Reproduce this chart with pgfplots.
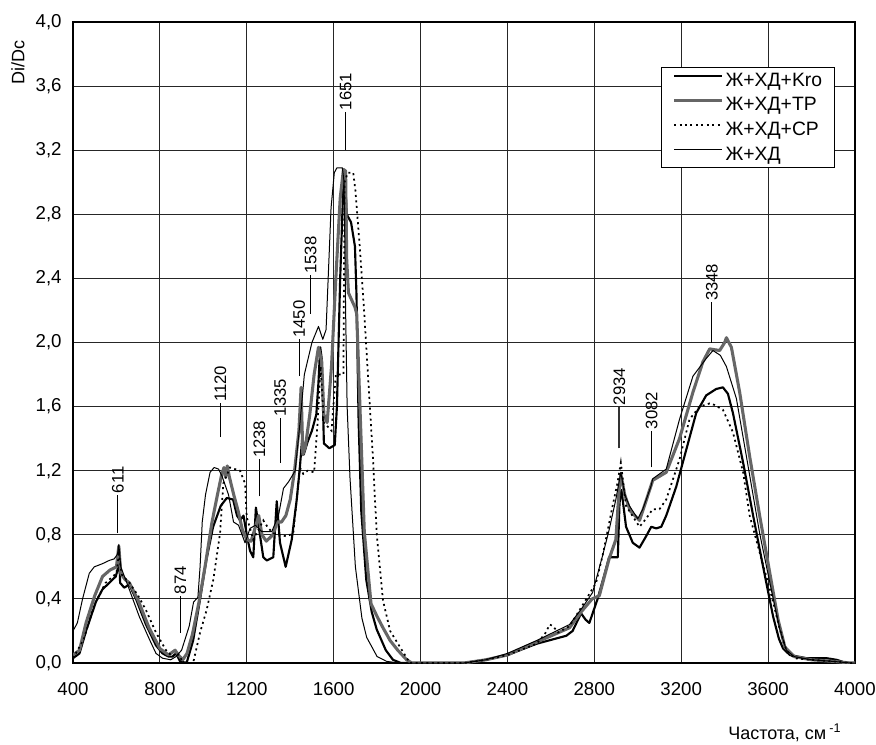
\documentclass[border=0pt]{standalone}
\usepackage{fontspec}
\setmainfont{Liberation Sans}
\usepackage{pgfplots}
\pgfplotsset{compat=1.18}

\pgfplotstableread{
x y
400 0.03
430 0.06
460 0.20
505 0.38
536 0.46
567 0.50
597 0.54
605 0.58
611 0.73
617 0.50
636 0.47
659 0.49
690 0.40
736 0.24
782 0.11
812 0.06
840 0.04
858 0.04
874 0.06
893 0.01
923 0.00
953 0.14
984 0.39
1015 0.65
1045 0.85
1080 0.98
1108 1.03
1137 1.02
1155 0.92
1169 0.89
1185 0.92
1200 0.80
1215 0.70
1230 0.66
1242 0.97
1255 0.85
1276 0.66
1292 0.64
1322 0.66
1338 1.01
1353 0.75
1379 0.60
1407 0.77
1430 1.02
1445 1.23
1455 1.40
1462 1.30
1480 1.38
1500 1.45
1520 1.55
1530 1.75
1538 1.97
1545 1.90
1555 1.37
1580 1.34
1605 1.36
1615 1.60
1630 2.40
1645 3.00
1651 3.07
1660 2.80
1680 2.75
1698 2.60
1705 2.30
1715 1.50
1727 0.95
1750 0.52
1775 0.32
1798 0.21
1840 0.08
1873 0.02
1910 0.00
2200 0.00
2300 0.02
2400 0.05
2534 0.12
2671 0.17
2700 0.20
2739 0.31
2760 0.27
2777 0.25
2815 0.40
2846 0.55
2868 0.66
2908 0.66
2916 1.00
2925 1.08
2946 0.85
2977 0.75
3008 0.72
3038 0.79
3062 0.85
3085 0.84
3108 0.85
3131 0.92
3177 1.10
3223 1.33
3269 1.56
3315 1.67
3361 1.71
3392 1.72
3415 1.68
3438 1.56
3485 1.25
3531 0.92
3577 0.60
3623 0.29
3650 0.15
3669 0.09
3700 0.05
3777 0.03
3869 0.03
3915 0.02
3960 0.00
4000 0.00
}\kro

\pgfplotstableread{
x y
400 0.05
430 0.08
460 0.25
500 0.42
536 0.54
570 0.58
600 0.60
611 0.73
620 0.56
640 0.52
660 0.50
700 0.39
750 0.22
800 0.09
840 0.05
870 0.08
885 0.05
905 0.02
925 0.06
950 0.18
980 0.38
1010 0.62
1040 0.88
1065 1.05
1085 1.18
1095 1.22
1102 1.16
1110 1.23
1120 1.16
1140 1.05
1160 0.95
1180 0.83
1200 0.77
1220 0.76
1240 0.85
1255 0.92
1270 0.80
1290 0.76
1320 0.80
1340 0.88
1360 0.88
1380 0.92
1400 1.02
1420 1.20
1440 1.45
1450 1.72
1458 1.30
1470 1.35
1490 1.55
1510 1.80
1530 1.97
1545 1.88
1555 1.55
1570 1.50
1590 1.85
1610 2.40
1630 2.90
1645 3.08
1655 3.07
1660 2.52
1668 2.31
1698 2.22
1706 2.18
1712 1.95
1741 0.82
1772 0.37
1800 0.29
1827 0.22
1860 0.14
1895 0.08
1936 0.02
1960 0.00
2200 0.00
2300 0.02
2400 0.05
2534 0.13
2686 0.22
2740 0.32
2790 0.40
2823 0.42
2868 0.65
2899 0.77
2914 1.08
2922 1.18
2940 1.05
2965 0.95
3008 0.89
3040 1.02
3069 1.14
3131 1.19
3192 1.40
3254 1.69
3300 1.88
3331 1.96
3377 1.95
3400 2.00
3408 2.03
3431 1.97
3469 1.69
3515 1.29
3561 0.92
3608 0.56
3646 0.27
3677 0.10
3720 0.04
3800 0.02
3900 0.01
3980 0.00
4000 0.00
}\tp

\pgfplotstableread{
x y
400 0.03
450 0.15
500 0.37
550 0.50
600 0.56
611 0.68
625 0.55
660 0.50
700 0.42
736 0.33
782 0.19
828 0.08
858 0.04
880 0.06
900 0.02
920 0.00
953 0.00
985 0.19
1015 0.33
1046 0.52
1077 0.81
1092 1.12
1123 1.22
1169 1.20
1192 1.12
1200 0.91
1230 0.77
1276 0.89
1300 0.84
1322 0.81
1350 0.80
1384 0.79
1414 0.81
1430 1.02
1445 1.22
1460 1.18
1480 1.20
1510 1.19
1526 1.50
1540 1.85
1555 1.50
1590 1.45
1610 1.80
1645 1.80
1650 3.00
1665 3.06
1690 3.06
1700 2.95
1720 2.60
1740 2.20
1760 1.75
1780 1.30
1798 0.81
1827 0.39
1860 0.20
1905 0.10
1951 0.00
2200 0.00
2300 0.02
2400 0.05
2534 0.12
2572 0.18
2595 0.24
2610 0.23
2633 0.19
2686 0.23
2732 0.33
2808 0.50
2838 0.67
2853 0.77
2884 0.98
2906 1.12
2922 1.25
2946 0.98
3008 0.85
3038 0.90
3069 0.96
3100 0.96
3131 1.02
3192 1.27
3238 1.52
3285 1.60
3331 1.62
3354 1.61
3392 1.58
3438 1.44
3485 1.19
3515 0.92
3561 0.69
3608 0.46
3654 0.21
3684 0.08
3720 0.03
3800 0.02
3900 0.01
3980 0.00
4000 0.00
}\cp

\pgfplotstableread{
x y
400 0.20
420 0.25
444 0.40
475 0.56
498 0.60
536 0.62
567 0.64
590 0.65
605 0.68
611 0.74
620 0.60
659 0.46
705 0.29
751 0.15
782 0.06
812 0.03
850 0.02
874 0.04
900 0.08
935 0.23
955 0.38
975 0.41
985 0.60
995 0.88
1010 1.05
1031 1.19
1050 1.22
1070 1.21
1085 1.17
1116 1.05
1139 0.88
1162 0.86
1192 0.75
1215 0.84
1240 0.86
1269 0.82
1315 0.82
1346 0.92
1369 1.09
1392 1.13
1423 1.20
1445 1.50
1465 1.80
1500 2.00
1530 2.10
1550 2.02
1565 2.08
1588 2.84
1603 3.06
1615 3.09
1640 3.09
1648 3.00
1655 2.20
1662 1.60
1675 1.16
1700 0.60
1730 0.28
1752 0.16
1800 0.04
1844 0.01
1900 0.00
2200 0.00
2300 0.02
2400 0.06
2534 0.14
2686 0.24
2747 0.35
2792 0.44
2838 0.67
2868 0.83
2899 1.02
2922 1.19
2940 1.05
2962 0.98
3000 0.90
3023 0.96
3060 1.10
3069 1.15
3131 1.21
3192 1.52
3254 1.79
3315 1.90
3346 1.95
3380 1.92
3408 1.85
3454 1.65
3500 1.29
3561 0.81
3608 0.50
3654 0.21
3684 0.08
3720 0.04
3800 0.02
3900 0.01
3980 0.00
4000 0.00
}\xd

\newcommand{\ann}[4]{%
  \draw[black,line width=0.75pt] (axis cs:#1,#2) -- (axis cs:#1,#3);
  \node[rotate=90,anchor=west,inner sep=1pt,font=\fontsize{12.5}{14}\selectfont]
    at (axis cs:#1,#3) {#4};}

\begin{document}
\begin{tikzpicture}
\path[use as bounding box] (0,0) rectangle (657pt,558pt);
\begin{axis}[at={(54.75pt,60.75pt)},anchor=south west,scale only axis,
  width=586.5pt,height=480.75pt,
  xmin=400,xmax=4000,ymin=0,ymax=4,
  xtick={400,800,1200,1600,2000,2400,2800,3200,3600,4000},
  ytick={0,0.4,0.8,1.2,1.6,2,2.4,2.8,3.2,3.6,4},
  grid=major,grid style={black!85,line width=0.7pt},
  axis line style={black,line width=0.8pt},
  major tick length=0pt,
  tick label style={font=\fontsize{14}{16}\selectfont},
  /pgf/number format/assume math mode=true,
  xticklabel style={/pgf/number format/1000 sep={},yshift=-11pt},
  yticklabel style={/pgf/number format/.cd,fixed,fixed zerofill,precision=1,use comma,/tikz/.cd,xshift=-5pt},
  legend image code/.code={\draw[#1] (0pt,0.35em) -- (36pt,0.35em);},
  legend cell align=left,
  legend style={at={(1,1)},anchor=north east,xshift=-14.8pt,yshift=-33.75pt,
    draw=black,line width=0.75pt,fill=white,
    font=\fontsize{14.5}{17}\selectfont,
    inner xsep=8pt,inner ysep=3pt,row sep=5pt,
    /tikz/every even column/.append style={column sep=0pt},
    nodes={inner xsep=1.5pt,inner ysep=1pt}},
]
\addplot[black,line width=1.6pt,line join=round] table {\kro};
\addlegendentry{Ж+ХД+Kro}
\addplot[black!60,line width=2.3pt,line join=round] table {\tp};
\addlegendentry{Ж+ХД+TP}
\addplot[black,line width=1.3pt,dash pattern=on 1.5pt off 2.6pt] table {\cp};
\addlegendentry{Ж+ХД+CP}
\addplot[black,line width=0.75pt,line join=round] table {\xd};
\addlegendentry{Ж+ХД}
\ann{607}{0.81}{1.05}{611}
\ann{894}{0.19}{0.42}{874}
\ann{1078}{1.41}{1.62}{1120}
\ann{1258}{1.04}{1.27}{1238}
\ann{1354}{1.25}{1.53}{1335}
\ann{1441}{1.79}{2.02}{1450}
\ann{1494}{2.18}{2.42}{1538}
\ann{1655}{3.20}{3.44}{1651}
\ann{3064}{1.22}{1.45}{3082}
\ann{3341}{2.00}{2.25}{3348}
\draw[black!80,line width=1.6pt] (axis cs:2915,1.34) -- (axis cs:2915,1.60);
\node[rotate=90,anchor=west,inner sep=1pt,font=\fontsize{12.5}{14}\selectfont]
  at (axis cs:2915,1.60) {2934};
\end{axis}
\node[rotate=90,font=\fontsize{13.5}{15}\selectfont] at (13.5pt,511pt) {Di/Dc};
\node[anchor=base west,font=\fontsize{13.5}{15}\selectfont,inner sep=0pt]
  at (546pt,3.5pt) {Частота, см\,\textsuperscript{-1}};
\end{tikzpicture}
\end{document}
